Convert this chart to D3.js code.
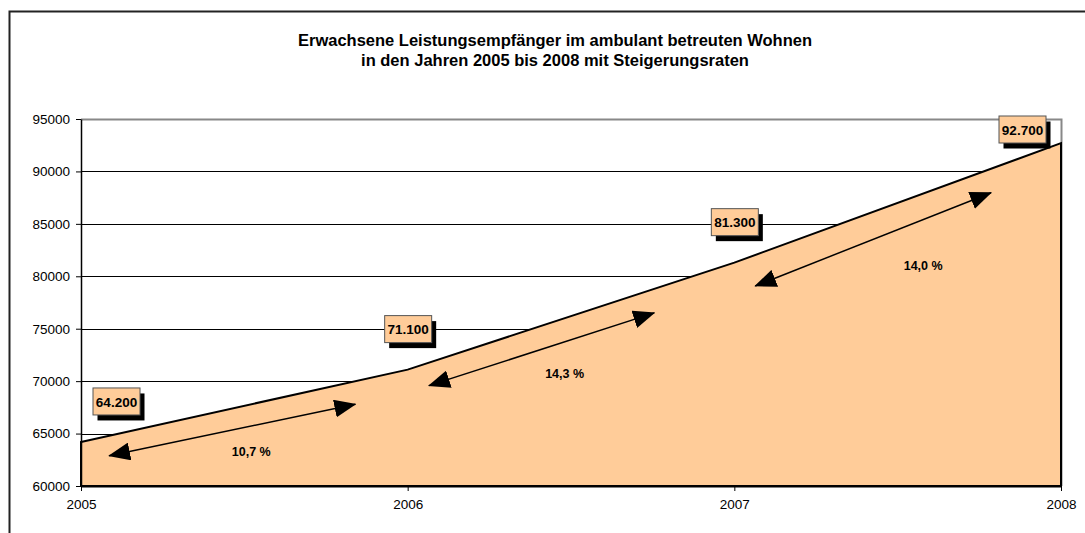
<!DOCTYPE html>
<html>
<head>
<meta charset="utf-8">
<script src="https://cdn.jsdelivr.net/npm/d3@7"></script>
<style>
  body { margin: 0; background: #fff; }
  text { font-family: Arial, "Liberation Sans", sans-serif; }
</style>
</head>
<body>
<script>
// data
var years = [2005, 2006, 2007, 2008];
var recipients = [64200, 71100, 81300, 92700];
var valueLabels = ["64.200", "71.100", "81.300", "92.700"];
var growthLabels = ["10,7 %", "14,3 %", "14,0 %"];
var yTicks = [60000, 65000, 70000, 75000, 80000, 85000, 90000, 95000];

var width = 1085, height = 533;
var plot = {left: 81, right: 1061, top: 119, bottom: 486};

var svg = d3.select("body").append("svg")
            .attr("width", width)
            .attr("height", height);

// outer chart frame (runs off the right and bottom of the picture)
svg.append("rect")
   .attr("x", 9.5).attr("y", 11.5)
   .attr("width", 1200).attr("height", 600)
   .style("fill", "none")
   .style("stroke", "#222")
   .style("stroke-width", 2);

// title
var title = svg.append("text")
   .attr("x", 555)
   .attr("y", 46)
   .attr("text-anchor", "middle")
   .style("font-weight", "bold")
   .style("font-size", "16.5px");
title.append("tspan").attr("x", 555).text("Erwachsene Leistungsempfänger im ambulant betreuten Wohnen");
title.append("tspan").attr("x", 555).attr("dy", 20).text("in den Jahren 2005 bis 2008 mit Steigerungsraten");

var x = d3.scaleLinear().domain([2005, 2008]).range([plot.left, plot.right]);
var y = d3.scaleLinear().domain([60000, 95000]).range([plot.bottom, plot.top]);

var data = years.map(function(d, i) { return {year: d, value: recipients[i]}; });

// grid lines
svg.append("g")
   .selectAll("line")
   .data(yTicks.slice(1, -1))
   .enter().append("line")
   .attr("x1", plot.left).attr("x2", plot.right)
   .attr("y1", function(d) { return Math.round(y(d)) + 0.5; })
   .attr("y2", function(d) { return Math.round(y(d)) + 0.5; })
   .style("stroke", "#000")
   .style("stroke-width", 1);

// plot border top and right (gray)
svg.append("path")
   .attr("d", "M" + plot.left + "," + (plot.top + 0.5) + "H" + (plot.right + 0.5) + "V" + plot.bottom)
   .style("fill", "none")
   .style("stroke", "#888")
   .style("stroke-width", 2);

// area
var area = d3.area()
   .x(function(d) { return x(d.year); })
   .y0(y(60000))
   .y1(function(d) { return y(d.value); });

svg.append("path")
   .datum(data)
   .attr("d", area)
   .style("fill", "#FFCC99")
   .style("stroke", "#000")
   .style("stroke-width", 2)
   .style("stroke-linejoin", "miter");

// axes
var yAxis = d3.axisLeft(y).tickValues(yTicks).tickSize(5).tickSizeOuter(0)
              .tickFormat(d3.format("d"));
var gy = svg.append("g")
   .attr("transform", "translate(" + plot.left + ",0)")
   .call(yAxis);
gy.select(".domain").style("stroke", "#000").style("stroke-width", 1.5);
gy.selectAll("text").style("font-size", "13.5px").attr("x", -11).attr("fill", "#000");

var xAxis = d3.axisBottom(x).tickValues(years).tickSize(5).tickSizeOuter(0)
              .tickFormat(d3.format("d"));
var gx = svg.append("g")
   .attr("transform", "translate(0," + plot.bottom + ")")
   .call(xAxis);
gx.select(".domain").style("stroke", "#000").style("stroke-width", 2);
gx.selectAll("text").style("font-size", "13.5px").attr("y", 13).attr("fill", "#000");

// growth arrows between the years
var defs = svg.append("defs");
defs.append("marker")
    .attr("id", "head")
    .attr("viewBox", "0 0 22 18")
    .attr("refX", 21).attr("refY", 9)
    .attr("markerWidth", 22).attr("markerHeight", 18)
    .attr("markerUnits", "userSpaceOnUse")
    .attr("orient", "auto-start-reverse")
    .append("path")
    .attr("d", "M0,0L22,9L0,18Z")
    .style("fill", "#000");

// where each arrow starts / ends within its year span, and how far below the line
var arrowSpan = [[0.086, 0.84, 20, 23], [0.065, 0.755, 23, 24], [0.064, 0.786, 31, 24]];
var labelShift = [[19, 22], [23, 24], [50, 26]];

data.slice(0, -1).forEach(function(d, i) {
  var n = data[i + 1];
  var s = arrowSpan[i];
  var ax0 = x(d.year + s[0]), ax1 = x(d.year + s[1]);
  var ay0 = y(d.value + (n.value - d.value) * s[0]) + s[2];
  var ay1 = y(d.value + (n.value - d.value) * s[1]) + s[3];
  svg.append("line")
     .attr("x1", ax0).attr("y1", ay0)
     .attr("x2", ax1).attr("y2", ay1)
     .style("stroke", "#000")
     .style("stroke-width", 1.5)
     .attr("marker-start", "url(#head)")
     .attr("marker-end", "url(#head)");
  svg.append("text")
     .attr("x", (ax0 + ax1) / 2 + labelShift[i][0])
     .attr("y", (ay0 + ay1) / 2 + labelShift[i][1])
     .attr("text-anchor", "middle")
     .attr("dy", "0.35em")
     .style("font-weight", "bold")
     .style("font-size", "12.5px")
     .text(growthLabels[i]);
});

// value labels with shadow
var bw = 47, bh = 27;
data.forEach(function(d, i) {
  var cx = Math.max(plot.left + 35, Math.min(plot.right - 39, x(d.year)));
  var cy = Math.max(plot.top + 10, y(d.value) - 41);
  var g = svg.append("g").attr("transform", "translate(" + cx + "," + cy + ")");
  g.append("rect")
   .attr("x", -bw / 2 + 5).attr("y", -bh / 2 + 6)
   .attr("width", bw).attr("height", bh)
   .style("fill", "#000");
  g.append("rect")
   .attr("x", -bw / 2 + 0.5).attr("y", -bh / 2 + 0.5)
   .attr("width", bw).attr("height", bh)
   .style("fill", "#FFCC99")
   .style("stroke", "#555")
   .style("stroke-width", 1);
  g.append("text")
   .attr("x", 0.5).attr("y", 1)
   .attr("text-anchor", "middle")
   .attr("dy", "0.35em")
   .style("font-weight", "bold")
   .style("font-size", "13.5px")
   .text(valueLabels[i]);
});
</script>
</body>
</html>
